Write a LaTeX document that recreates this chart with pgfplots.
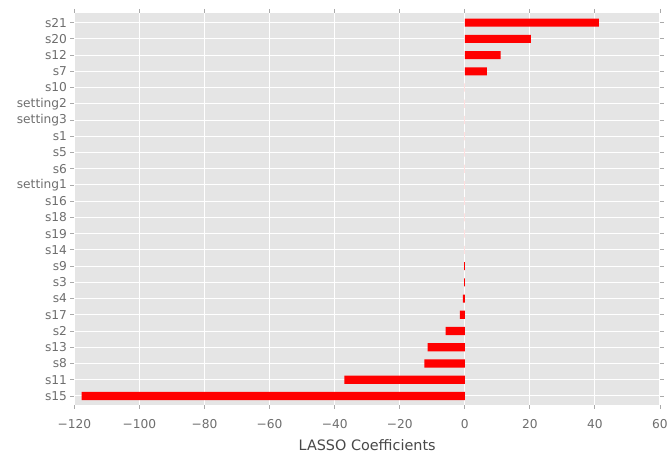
\documentclass[border=0pt]{standalone}
\usepackage{fontspec}
\setmainfont{DejaVu Sans}
\usepackage{pgfplots}
\pgfplotsset{compat=1.18}
\definecolor{bg}{HTML}{E5E5E5}
\definecolor{tk}{HTML}{555555}
\begin{document}
\begin{tikzpicture}
\begin{axis}[
  xbar,
  scale only axis,
  width=590pt, height=395pt,
  xmin=-120, xmax=60,
  ymin=-0.55, ymax=23.6,
  xtick={-120,-100,...,60},
  xticklabels={−120,−100,−80,−60,−40,−20,0,20,40,60},
  ytick={0,...,23},
  yticklabels={s15,s11,s8,s13,s2,s17,s4,s3,s9,s14,s19,s18,s16,setting1,s6,s5,s1,setting3,setting2,s10,s7,s12,s20,s21},
  bar width=0.5,
  axis background/.style={fill=bg},
  axis line style={draw=none},
  grid=major,
  major grid style={white, line width=1pt},
  tick pos=both,
  tick align=outside,
  major tick length=4pt,
  tick style={tk!50, line width=0.8pt},
  tick label style={font=\fontsize{12.3}{14}\selectfont, text=tk!85},
  xlabel={LASSO Coefficients},
  xlabel style={font=\fontsize{14.5}{16}\selectfont, text=tk!85!black, yshift=-4pt},
  xticklabel style={yshift=-7pt},
]
\addplot[fill=red, draw=none] coordinates {
(-117.8,0) (-37,1) (-12.4,2) (-11.4,3) (-5.9,4) (-1.5,5) (-0.6,6) (-0.2,7) (-0.2,8)
(0,9) (0,10) (0,11) (0,12) (0,13) (0,14) (0,15) (0,16) (0,17) (0,18) (0,19)
(6.8,20) (11,21) (20.3,22) (41.2,23)
};
\end{axis}
\path (current axis.north) ++(0,13pt);
\path (current axis.west) ++(-75pt,0);
\path (current axis.south) ++(0,-51pt);
\end{tikzpicture}
\end{document}
